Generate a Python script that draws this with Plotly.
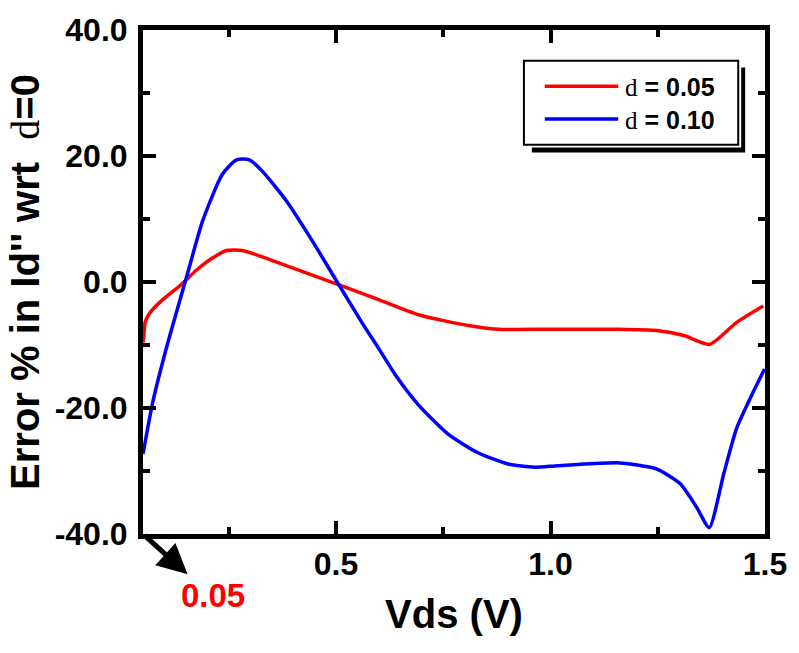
import plotly.graph_objects as go

# ---- data ----
vds_red = [0.05, 0.052, 0.055, 0.066, 0.096, 0.136, 0.175, 0.212, 0.245, 0.282, 0.368,
           0.483, 0.576, 0.599, 0.692, 0.808, 0.878, 1.0, 1.156, 1.248, 1.311, 1.371,
           1.434, 1.496]
err_red = [-9.6, -8.5, -6.4, -4.9, -2.8, -0.6, 1.9, 3.8, 5.0, 5.0, 3.0,
           0.15, -2.2, -2.8, -5.2, -6.9, -7.5, -7.5, -7.5, -7.7, -8.5, -9.9,
           -6.4, -3.8]

vds_blue = [0.05, 0.073, 0.108, 0.152, 0.189, 0.235, 0.268, 0.298, 0.328, 0.384, 0.444,
            0.500, 0.560, 0.599, 0.639, 0.692, 0.762, 0.831, 0.901, 0.963, 1.010,
            1.079, 1.156, 1.186, 1.248, 1.302, 1.341, 1.370, 1.404, 1.434, 1.473, 1.499]
err_blue = [-27.3, -19.0, -9.6, 0.9, 9.7, 17.1, 19.4, 19.4, 17.6, 12.9, 6.6,
            0.3, -6.4, -10.5, -14.8, -19.5, -24.2, -27.1, -28.9, -29.4, -29.2,
            -28.9, -28.7, -28.9, -29.7, -32.0, -35.8, -39.0, -30.4, -23.2, -17.4, -13.8]

series_names = ["d = 0.05", "d = 0.10"]
series_colors = ["#ff0000", "#0000ff"]
x_range = [0.05, 1.5]
y_range = [-40, 40]
x_ticks = [0.5, 1.0, 1.5]
y_ticks = [-40, -20, 0, 20, 40]
start_label = "0.05"

SANS = "Liberation Sans, Arial, sans-serif"

fig = go.Figure()
for xs, ys, name, col in [(vds_red, err_red, series_names[0], series_colors[0]),
                          (vds_blue, err_blue, series_names[1], series_colors[1])]:
    fig.add_trace(go.Scatter(x=xs, y=ys, mode="lines", name=name,
                             line=dict(color=col, width=3.5, shape="spline", smoothing=0.6),
                             showlegend=False))

axis_common = dict(
    showline=True, linecolor="black", linewidth=5, mirror="allticks",
    ticks="inside", tickcolor="black", tickwidth=4, ticklen=13,
    showgrid=False, zeroline=False,
    tickfont=dict(family=SANS, size=32, color="black", weight="bold"),
)

fig.update_layout(
    width=799, height=653,
    margin=dict(l=143, r=29, t=24, b=119),
    paper_bgcolor="white", plot_bgcolor="white",
    xaxis=dict(range=x_range, tickvals=x_ticks, ticktext=[f"{v:.1f}" for v in x_ticks],
               minor=dict(ticks="inside", ticklen=7, tickwidth=4, tickcolor="black",
                          tickvals=[0.25, 0.75, 1.25]),
               ticklabelstandoff=-2,
               title=dict(text="<b>Vds (V)</b>", font=dict(family=SANS, size=40, color="black"),
                          standoff=20),
               **axis_common),
    yaxis=dict(range=y_range, tickvals=y_ticks, ticktext=[f"{v:.1f}" for v in y_ticks],
               minor=dict(ticks="inside", ticklen=7, tickwidth=4, tickcolor="black",
                          tickvals=[-30, -10, 10, 30]),
               ticklabelstandoff=4,
               title=dict(text="<b>Error % in Id'' wrt\u00a0\u00a0</b>"
                               "<span style=\"font-family:'Liberation Serif', serif;font-weight:normal\">d</span>"
                               "<b>=0</b>",
                          font=dict(family=SANS, size=40, color="black"), standoff=4),
               **axis_common),
)

# legend box with drop shadow (paper coordinates computed from pixel layout)
W, H = 799 - 143 - 29, 653 - 24 - 119
def px(x):
    return (x - 143) / W
def py(y):
    return (534 - y) / H

fig.add_shape(type="rect", xref="paper", yref="paper",
              x0=px(535), x1=px(750), y0=py(148), y1=py(62),
              fillcolor="black", line=dict(width=0), layer="above")
fig.add_shape(type="rect", xref="paper", yref="paper",
              x0=px(524), x1=px(746), y0=py(143), y1=py(52),
              fillcolor="white", line=dict(width=0), layer="above")
fig.add_shape(type="rect", xref="paper", yref="paper",
              x0=px(527), x1=px(743), y0=py(140), y1=py(55),
              fillcolor="white", line=dict(color="black", width=2), layer="above")
for i, (name, col) in enumerate(zip(series_names, series_colors)):
    yy = 81 + i * 33
    fig.add_shape(type="line", xref="paper", yref="paper",
                  x0=px(548), x1=px(622), y0=py(yy), y1=py(yy),
                  line=dict(color=col, width=3.5), layer="above")
    sym, rest = name.split(" ", 1)
    fig.add_annotation(xref="paper", yref="paper", x=px(627), y=py(yy + 1),
                       xanchor="left", yanchor="middle", showarrow=False,
                       text=f"<span style=\"font-family:'Liberation Serif', serif\">{sym}</span> <b>{rest}</b>",
                       font=dict(family=SANS, size=25, color="black"))

# arrow from the origin corner pointing to the start value label
fig.add_annotation(x=0.154, y=-46.4, ax=0.05, ay=-40, xref="x", yref="y",
                   axref="x", ayref="y", text="", showarrow=True,
                   arrowhead=2, arrowsize=1.2, arrowwidth=5, arrowcolor="black")
fig.add_annotation(xref="paper", yref="paper", x=px(214), y=py(596),
                   xanchor="center", yanchor="middle", showarrow=False,
                   text=f"<b>{start_label}</b>",
                   font=dict(family=SANS, size=33, color="#ff0000"))

fig.write_html("out.html")
